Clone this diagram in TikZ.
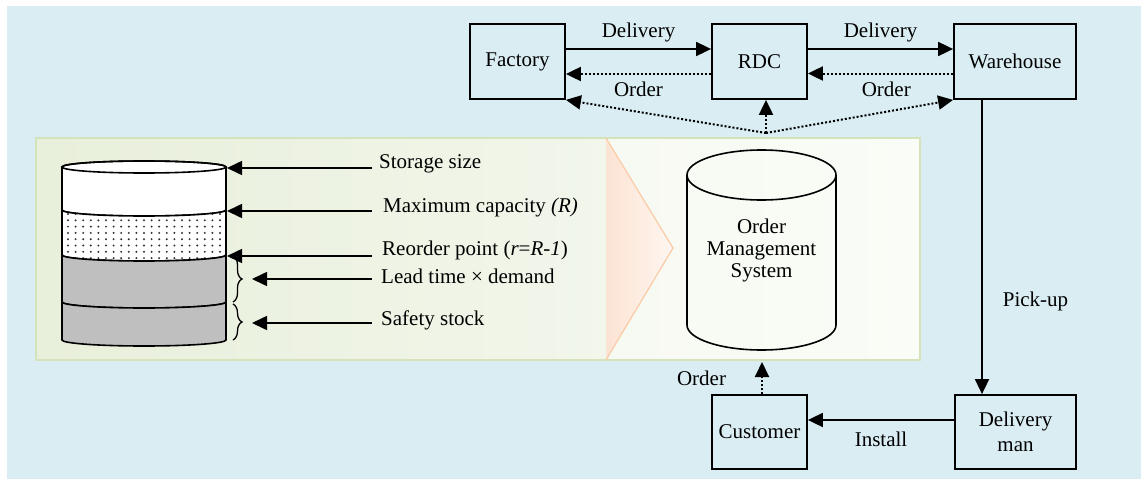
\documentclass[tikz,border=0pt]{standalone}
\usepackage{fontspec}
\setmainfont{Liberation Serif}
\usetikzlibrary{arrows.meta,decorations.pathreplacing}

\definecolor{bgblue}{HTML}{DAEDF3}
\definecolor{panelL}{HTML}{E8EFDA}
\definecolor{panelM}{HTML}{F2F6EB}
\definecolor{panelR}{HTML}{F7FAF2}
\definecolor{panelRR}{HTML}{FAFCF7}
\definecolor{panelEdge}{HTML}{D5E3BA}
\definecolor{peach}{HTML}{FCE3D3}
\definecolor{peachLight}{HTML}{FEF6F1}
\definecolor{peachEdge}{HTML}{FBCBA6}
\definecolor{stockgray}{HTML}{BFBFBF}

\tikzset{
  box/.style={draw, line width=1.8pt, inner sep=0pt, minimum height=75pt,
              align=center, font=\fontsize{21}{25}\selectfont},
  flow/.style={line width=1.8pt, -{Triangle[length=15pt,width=14pt]}},
  orderflow/.style={flow, line width=2pt, dash pattern=on 2pt off 2pt},
  pointer/.style={line width=1.6pt, -{Triangle[length=15pt,width=14pt]}},
  tag/.style={inner sep=2pt},
  rim/.style={line width=1.6pt},
  stockbrace/.style={line width=1.3pt, decorate,
                     decoration={brace, amplitude=9pt}},
}

\begin{document}
\begin{tikzpicture}[x=1pt, y=-1pt, font=\fontsize{21}{23}\selectfont]
\useasboundingbox (0,0) rectangle (1141,479);

% background
\fill[bgblue] (7,6) rectangle (1141,479);

% inventory panel with the chevron
\shade[left color=panelL, right color=panelM] (36,138) rectangle (606,360);
\shade[left color=panelR, right color=panelRR] (606,138) rectangle (920,360);
\draw[panelEdge, line width=1.2pt] (36,138) rectangle (920,360);
\shade[left color=peach, right color=peachLight] (606,138) -- (673,248) -- (606,360) -- cycle;
\draw[peachEdge, line width=1.2pt] (606,138) -- (673,248) -- (606,360);

% ---- stock cylinder ----
% empty top layer
\filldraw[rim, fill=white] (62,167) -- (62,210)
  arc[start angle=180, end angle=360, x radius=82pt, y radius=6pt]
  -- (226,167)
  arc[start angle=0, end angle=180, x radius=82pt, y radius=6pt] -- cycle;
% dotted layer
\fill[white] (62,210) arc[start angle=180, end angle=360, x radius=82pt, y radius=6pt]
  -- (226,255) arc[start angle=0, end angle=-180, x radius=82pt, y radius=6pt] -- cycle;
\begin{scope}
  \clip (62,210) arc[start angle=180, end angle=360, x radius=82pt, y radius=6pt]
    -- (226,255) arc[start angle=0, end angle=-180, x radius=82pt, y radius=6pt] -- cycle;
  \foreach \i in {0,...,21}
    \foreach \j in {0,...,8}
      \fill[black!80] ({68+\i*7.6},{214+\j*6.3}) circle[radius=1.1pt];
\end{scope}
\draw[rim] (62,210) arc[start angle=180, end angle=360, x radius=82pt, y radius=6pt]
  -- (226,255) arc[start angle=0, end angle=-180, x radius=82pt, y radius=6pt] -- cycle;
% lead-time layer
\filldraw[rim, fill=stockgray] (62,255)
  arc[start angle=180, end angle=360, x radius=82pt, y radius=6pt]
  -- (226,302) arc[start angle=0, end angle=-180, x radius=82pt, y radius=6pt] -- cycle;
% safety layer
\filldraw[rim, fill=stockgray] (62,302)
  arc[start angle=180, end angle=360, x radius=82pt, y radius=6pt]
  -- (226,340) arc[start angle=0, end angle=-180, x radius=82pt, y radius=6pt] -- cycle;
% top ellipse
\draw[rim] (144,167) ellipse[x radius=82pt, y radius=6pt];

% braces
\draw[stockbrace] (233,256) -- (233,302);
\draw[stockbrace] (233,304) -- (233,340);

% level labels and pointers
\node[tag, anchor=base west] (l1) at (377,168) {Storage size};
\node[tag, anchor=base west] (l2) at (381,212) {Maximum capacity \textit{(R)}};
\node[tag, anchor=base west] (l3) at (380,255) {Reorder point (\textit{r}=\textit{R-1})};
\node[tag, anchor=base west] (l4) at (379,283) {Lead time × demand};
\node[tag, anchor=base west] (l5) at (379,325) {Safety stock};

\coordinate (a1) at (372,168); \coordinate (c1) at (227,168);
\coordinate (a2) at (372,211); \coordinate (c2) at (227,211);
\coordinate (a3) at (372,256); \coordinate (c3) at (227,256);
\coordinate (a4) at (372,279); \coordinate (c4) at (252,279);
\coordinate (a5) at (372,323); \coordinate (c5) at (252,323);
\foreach \k in {1,...,5} \draw[pointer] (a\k) -- (c\k);

% ---- order management system ----
\draw[rim] (687,175) -- (687,325)
  arc[start angle=180, end angle=360, x radius=74.5pt, y radius=25pt]
  -- (836,175);
\draw[rim] (761.5,175) ellipse[x radius=74.5pt, y radius=25pt];
\node[align=center, font=\fontsize{21}{22}\selectfont] (oms) at (761.5,250)
  {Order\\Management\\System};

% ---- supply chain ----
\node[box, minimum width=95pt]  (fac)  at (517.5,61.5) {Factory};
\node[box, minimum width=95pt]  (rdc)  at (759.5,61.5) {RDC};
\node[box, minimum width=122pt] (wh)   at (1015,61.5)  {Warehouse};
\node[box, minimum width=95pt, minimum height=74pt]  (cust) at (759.5,432) {Customer};
\node[box, minimum width=121pt, minimum height=74pt] (dm)   at (1015.5,432) {Delivery\\man};

\draw[flow] ([yshift=12.5pt]fac.east) -- ([yshift=12.5pt]rdc.west)
  node[tag, midway, above=4pt] (d1) {Delivery};
\draw[orderflow] ([yshift=-12.5pt]rdc.west) -- ([yshift=-12.5pt]fac.east)
  node[tag, midway, below=5pt] (o1) {Order};
\draw[flow] ([yshift=12.5pt]rdc.east) -- ([yshift=12.5pt]wh.west)
  node[tag, midway, above=4pt] (d2) {Delivery};
\draw[orderflow] ([yshift=-12pt]wh.west) -- ([yshift=-12pt]rdc.east)
  node[tag, pos=0.46, below=5pt] (o2) {Order};

% orders issued by the system
\coordinate (j) at (766,133);
\draw[orderflow] (j) -- (fac.south east);
\draw[orderflow] (j) -- (rdc.south -| j);
\draw[orderflow] (j) -- (wh.south west);

% last mile
\draw[flow] ([xshift=-33pt]wh.south) -- ([xshift=-33.5pt]dm.north)
  node[tag, pos=0.685, right=18pt] (pu) {Pick-up};
\draw[flow] ([yshift=12pt]dm.west) -- ([yshift=12pt]cust.east)
  node[tag, midway, below=9pt] (ins) {Install};
\coordinate (co) at (762,362);
\draw[orderflow] (cust.north -| co) -- (co)
  node[tag, midway, left=33pt] (o3) {Order};
\end{tikzpicture}
\end{document}
